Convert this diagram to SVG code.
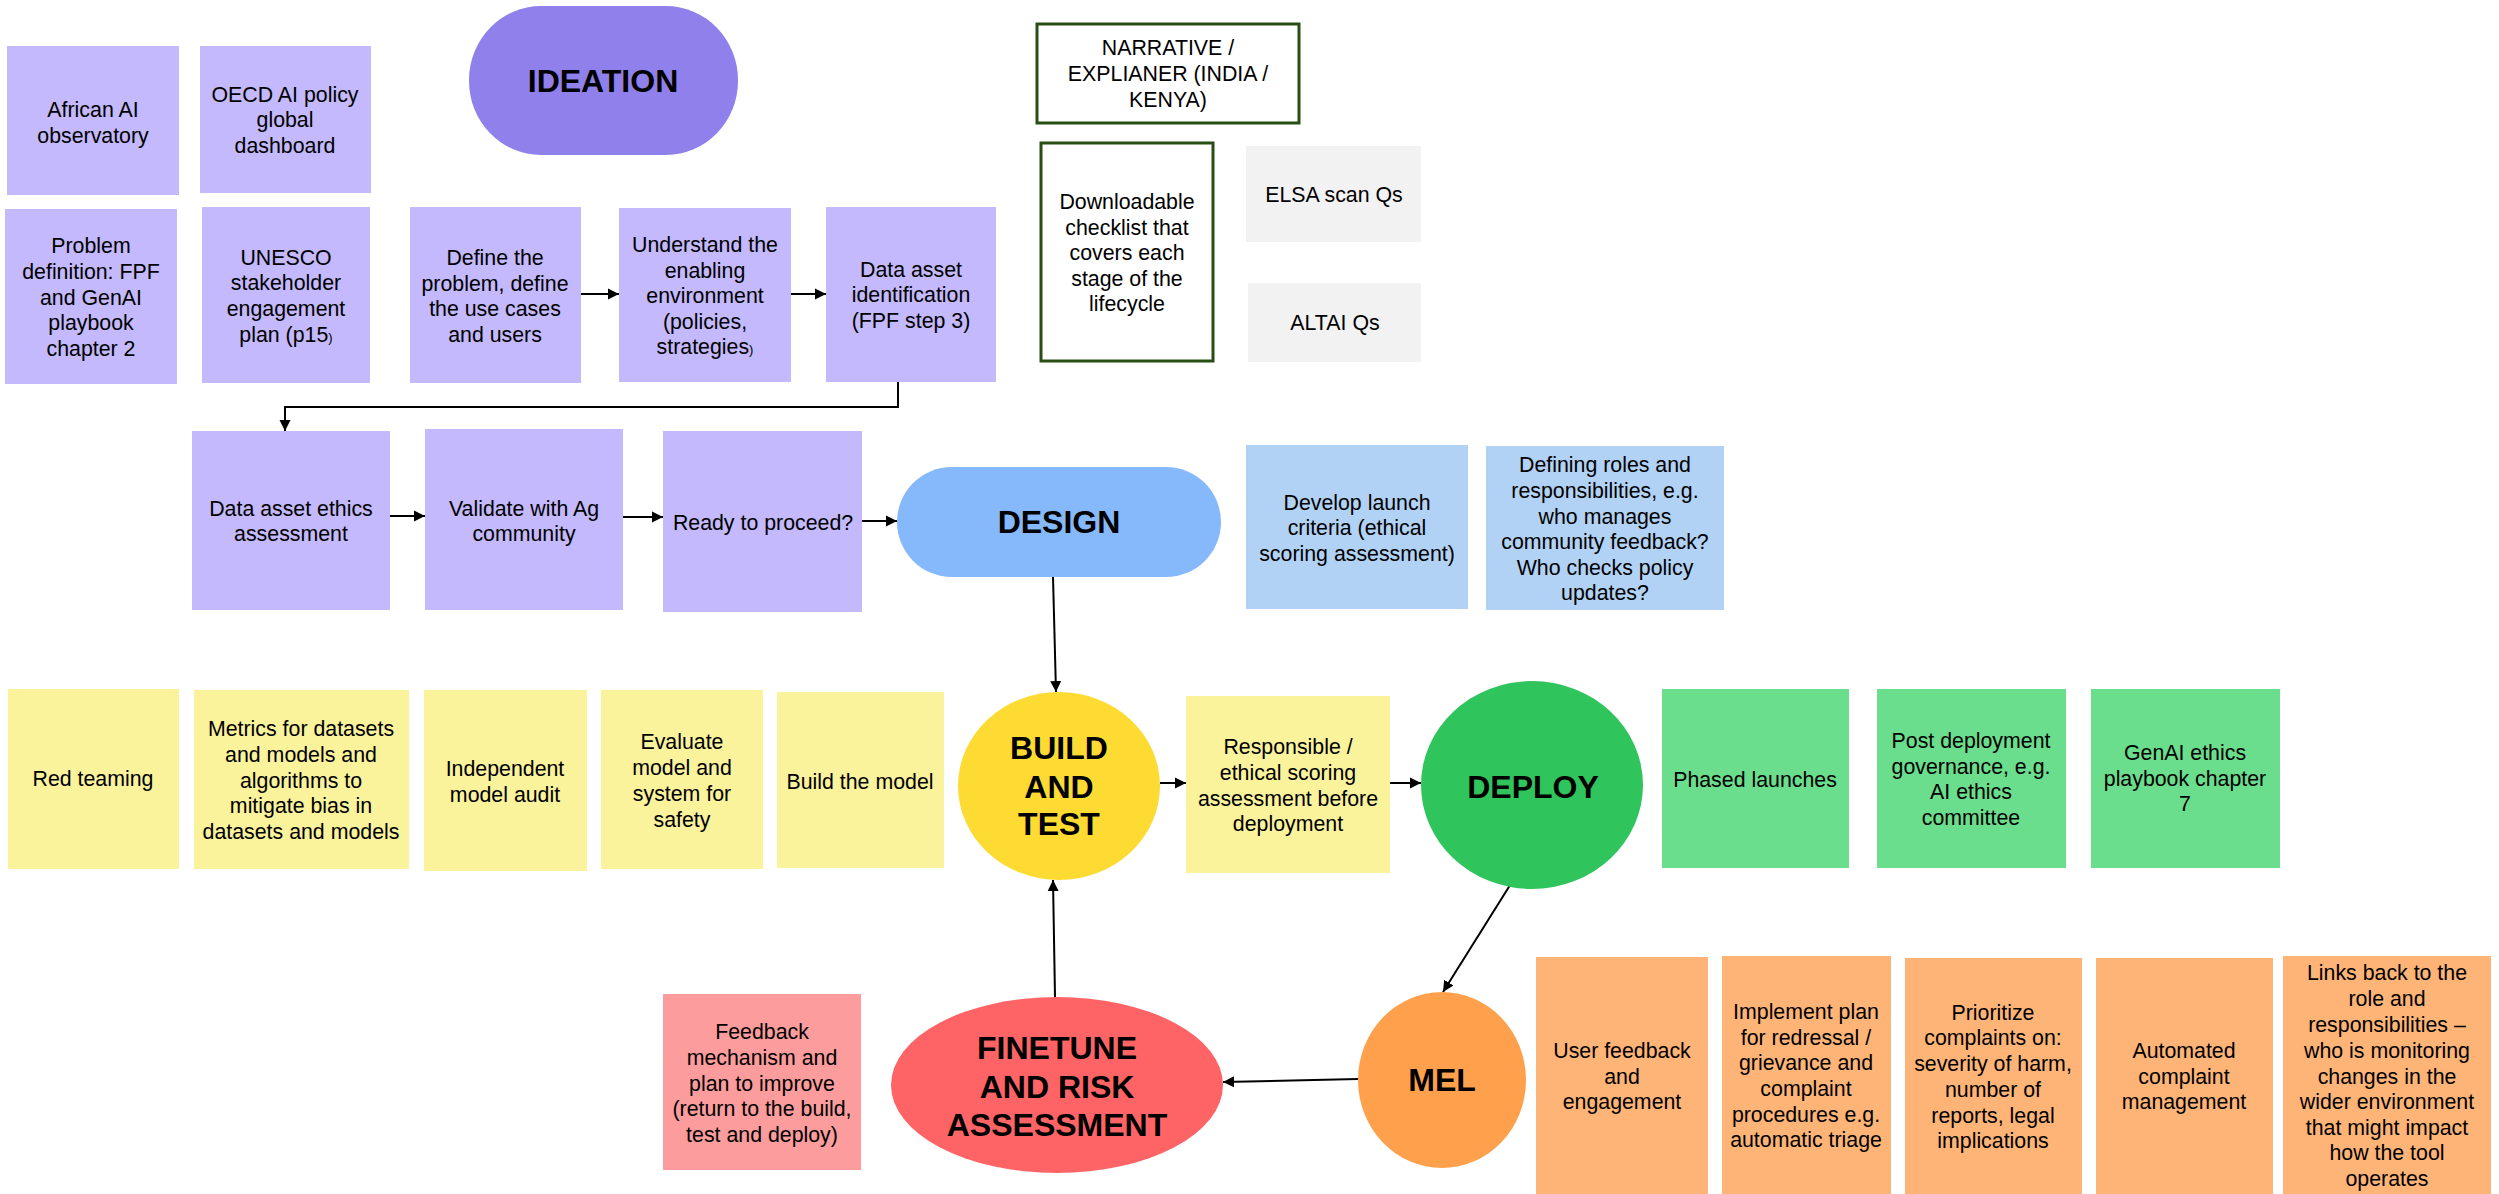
<svg xmlns="http://www.w3.org/2000/svg" width="2499" height="1194" viewBox="0 0 2499 1194">
<style>
text{font-family:"Liberation Sans",Arial,sans-serif;font-size:21.33px;fill:#000;text-anchor:middle}
.h{font-weight:bold;font-size:32px}
.pur{fill:#c3b9fc}
.blu{fill:#b1d2f5}
.yel{fill:#faf39c}
.grn{fill:#6ade8c}
.org{fill:#feb476}
.red{fill:#fc9c9c}
.gry{fill:#f2f2f2}
.out{fill:#fff;stroke:#274e13;stroke-width:3}
.c{fill:none;stroke:#000;stroke-width:2;marker-end:url(#ah)}
.s{font-size:13px}
</style>
<defs>
<marker id="ah" viewBox="0 0 10 10" refX="10" refY="5" markerWidth="11" markerHeight="12" markerUnits="userSpaceOnUse" orient="auto"><path d="M0,0 L10,5 L0,10 z" fill="#000"/></marker>
</defs>
<rect width="2499" height="1194" fill="#fff"/>

<g id="connectors">
<line class="c" x1="581" y1="294" x2="619" y2="294"/>
<line class="c" x1="791" y1="294" x2="826" y2="294"/>
<polyline class="c" points="898,382 898,407 285,407 285,431"/>
<line class="c" x1="390" y1="516" x2="425" y2="516"/>
<line class="c" x1="623" y1="517" x2="663" y2="517"/>
<line class="c" x1="862" y1="521" x2="897" y2="521"/>
<line class="c" x1="1053" y1="577" x2="1056" y2="692"/>
<line class="c" x1="1160" y1="783" x2="1186" y2="783"/>
<line class="c" x1="1390" y1="783" x2="1421" y2="783"/>
<line class="c" x1="1512" y1="882" x2="1443" y2="992"/>
<line class="c" x1="1358" y1="1079" x2="1223" y2="1082"/>
<line class="c" x1="1055" y1="997" x2="1053" y2="880"/>
</g>

<g id="ideation">
<rect x="469" y="6" width="269" height="149" rx="72" ry="74" fill="#8f80ec"/>
<text class="h" x="603" y="92">IDEATION</text>
</g>
<g id="african-ai">
<rect class="pur" x="7" y="46" width="172" height="149"/>
<text x="93" y="117">African AI</text><text x="93" y="143">observatory</text>
</g>
<g id="oecd">
<rect class="pur" x="200" y="46" width="171" height="147"/>
<text x="285" y="102">OECD AI policy</text><text x="285" y="127">global</text><text x="285" y="153">dashboard</text>
</g>
<g id="problem-definition">
<rect class="pur" x="5" y="209" width="172" height="175"/>
<text x="91" y="253">Problem</text><text x="91" y="279">definition: FPF</text><text x="91" y="305">and GenAI</text><text x="91" y="330">playbook</text><text x="91" y="356">chapter 2</text>
</g>
<g id="unesco">
<rect class="pur" x="202" y="207" width="168" height="176"/>
<text x="286" y="265">UNESCO</text><text x="286" y="290">stakeholder</text><text x="286" y="316">engagement</text><text x="286" y="342">plan (p15<tspan class="s">)</tspan></text>
</g>
<g id="define-problem">
<rect class="pur" x="410" y="207" width="171" height="176"/>
<text x="495" y="265">Define the</text><text x="495" y="291">problem, define</text><text x="495" y="316">the use cases</text><text x="495" y="342">and users</text>
</g>
<g id="understand-env">
<rect class="pur" x="619" y="208" width="172" height="174"/>
<text x="705" y="252">Understand the</text><text x="705" y="278">enabling</text><text x="705" y="303">environment</text><text x="705" y="329">(policies,</text><text x="705" y="354">strategies<tspan class="s">)</tspan></text>
</g>
<g id="data-asset-id">
<rect class="pur" x="826" y="207" width="170" height="175"/>
<text x="911" y="277">Data asset</text><text x="911" y="302">identification</text><text x="911" y="328">(FPF step 3)</text>
</g>
<g id="narrative">
<rect class="out" x="1037" y="24" width="262" height="99"/>
<text x="1168" y="55">NARRATIVE /</text><text x="1168" y="81">EXPLIANER (INDIA /</text><text x="1168" y="107">KENYA)</text>
</g>
<g id="checklist">
<rect class="out" x="1041" y="143" width="172" height="218"/>
<text x="1127" y="209">Downloadable</text><text x="1127" y="235">checklist that</text><text x="1127" y="260">covers each</text><text x="1127" y="286">stage of the</text><text x="1127" y="311">lifecycle</text>
</g>
<g id="elsa">
<rect class="gry" x="1246" y="146" width="175" height="96"/>
<text x="1334" y="202">ELSA scan Qs</text>
</g>
<g id="altai">
<rect class="gry" x="1248" y="283" width="173" height="79"/>
<text x="1335" y="330">ALTAI Qs</text>
</g>

<g id="data-ethics">
<rect class="pur" x="192" y="431" width="198" height="179"/>
<text x="291" y="516">Data asset ethics</text><text x="291" y="541">assessment</text>
</g>
<g id="validate">
<rect class="pur" x="425" y="429" width="198" height="181"/>
<text x="524" y="516">Validate with Ag</text><text x="524" y="541">community</text>
</g>
<g id="ready">
<rect class="pur" x="663" y="431" width="199" height="181"/>
<text x="763" y="530">Ready to proceed?</text>
</g>
<g id="design">
<rect x="897" y="467" width="324" height="110" rx="55" ry="55" fill="#86b8fc"/>
<text class="h" x="1059" y="533">DESIGN</text>
</g>
<g id="launch-criteria">
<rect class="blu" x="1246" y="445" width="222" height="164"/>
<text x="1357" y="510">Develop launch</text><text x="1357" y="535">criteria (ethical</text><text x="1357" y="561">scoring assessment)</text>
</g>
<g id="roles">
<rect class="blu" x="1486" y="446" width="238" height="164"/>
<text x="1605" y="472">Defining roles and</text><text x="1605" y="498">responsibilities, e.g.</text><text x="1605" y="524">who manages</text><text x="1605" y="549">community feedback?</text><text x="1605" y="575">Who checks policy</text><text x="1605" y="600">updates?</text>
</g>

<g id="red-teaming">
<rect class="yel" x="8" y="689" width="171" height="180"/>
<text x="93" y="786">Red teaming</text>
</g>
<g id="metrics">
<rect class="yel" x="194" y="690" width="215" height="179"/>
<text x="301" y="736">Metrics for datasets</text><text x="301" y="762">and models and</text><text x="301" y="788">algorithms to</text><text x="301" y="813">mitigate bias in</text><text x="301" y="839">datasets and models</text>
</g>
<g id="audit">
<rect class="yel" x="424" y="690" width="163" height="181"/>
<text x="505" y="776">Independent</text><text x="505" y="802">model audit</text>
</g>
<g id="evaluate">
<rect class="yel" x="601" y="690" width="162" height="179"/>
<text x="682" y="749">Evaluate</text><text x="682" y="775">model and</text><text x="682" y="801">system for</text><text x="682" y="827">safety</text>
</g>
<g id="build-model">
<rect class="yel" x="777" y="692" width="167" height="176"/>
<text x="860" y="789">Build the model</text>
</g>
<g id="build-test">
<ellipse cx="1059" cy="786" rx="101" ry="94" fill="#fddb33"/>
<text class="h" x="1059" y="759">BUILD</text><text class="h" x="1059" y="798">AND</text><text class="h" x="1059" y="835">TEST</text>
</g>
<g id="responsible">
<rect class="yel" x="1186" y="696" width="204" height="177"/>
<text x="1288" y="754">Responsible /</text><text x="1288" y="780">ethical scoring</text><text x="1288" y="806">assessment before</text><text x="1288" y="831">deployment</text>
</g>
<g id="deploy">
<ellipse cx="1532" cy="785" rx="111" ry="104" fill="#30c45c"/>
<text class="h" x="1533" y="798">DEPLOY</text>
</g>
<g id="phased">
<rect class="grn" x="1662" y="689" width="187" height="179"/>
<text x="1755" y="787">Phased launches</text>
</g>
<g id="post-deploy">
<rect class="grn" x="1877" y="689" width="189" height="179"/>
<text x="1971" y="748">Post deployment</text><text x="1971" y="774">governance, e.g.</text><text x="1971" y="799">AI ethics</text><text x="1971" y="825">committee</text>
</g>
<g id="genai-ch7">
<rect class="grn" x="2091" y="689" width="189" height="179"/>
<text x="2185" y="760">GenAI ethics</text><text x="2185" y="786">playbook chapter</text><text x="2185" y="811">7</text>
</g>

<g id="feedback">
<rect class="red" x="663" y="994" width="198" height="176"/>
<text x="762" y="1039">Feedback</text><text x="762" y="1065">mechanism and</text><text x="762" y="1091">plan to improve</text><text x="762" y="1116">(return to the build,</text><text x="762" y="1142">test and deploy)</text>
</g>
<g id="finetune">
<ellipse cx="1057" cy="1085" rx="166" ry="88" fill="#fe6466"/>
<text class="h" x="1057" y="1059">FINETUNE</text><text class="h" x="1057" y="1098">AND RISK</text><text class="h" x="1057" y="1136">ASSESSMENT</text>
</g>
<g id="mel">
<ellipse cx="1442" cy="1080" rx="84" ry="88" fill="#fea04c"/>
<text class="h" x="1442" y="1091">MEL</text>
</g>
<g id="user-feedback">
<rect class="org" x="1536" y="957" width="172" height="237"/>
<text x="1622" y="1058">User feedback</text><text x="1622" y="1084">and</text><text x="1622" y="1109">engagement</text>
</g>
<g id="implement">
<rect class="org" x="1722" y="956" width="169" height="238"/>
<text x="1806" y="1019">Implement plan</text><text x="1806" y="1045">for redressal /</text><text x="1806" y="1070">grievance and</text><text x="1806" y="1096">complaint</text><text x="1806" y="1122">procedures e.g.</text><text x="1806" y="1147">automatic triage</text>
</g>
<g id="prioritize">
<rect class="org" x="1905" y="958" width="177" height="236"/>
<text x="1993" y="1020">Prioritize</text><text x="1993" y="1045">complaints on:</text><text x="1993" y="1071">severity of harm,</text><text x="1993" y="1097">number of</text><text x="1993" y="1123">reports, legal</text><text x="1993" y="1148">implications</text>
</g>
<g id="automated">
<rect class="org" x="2096" y="958" width="177" height="236"/>
<text x="2184" y="1058">Automated</text><text x="2184" y="1084">complaint</text><text x="2184" y="1109">management</text>
</g>
<g id="links-back">
<rect class="org" x="2283" y="956" width="208" height="238"/>
<text x="2387" y="980">Links back to the</text><text x="2387" y="1006">role and</text><text x="2387" y="1032">responsibilities –</text><text x="2387" y="1058">who is monitoring</text><text x="2387" y="1084">changes in the</text><text x="2387" y="1109">wider environment</text><text x="2387" y="1135">that might impact</text><text x="2387" y="1160">how the tool</text><text x="2387" y="1186">operates</text>
</g>
</svg>
